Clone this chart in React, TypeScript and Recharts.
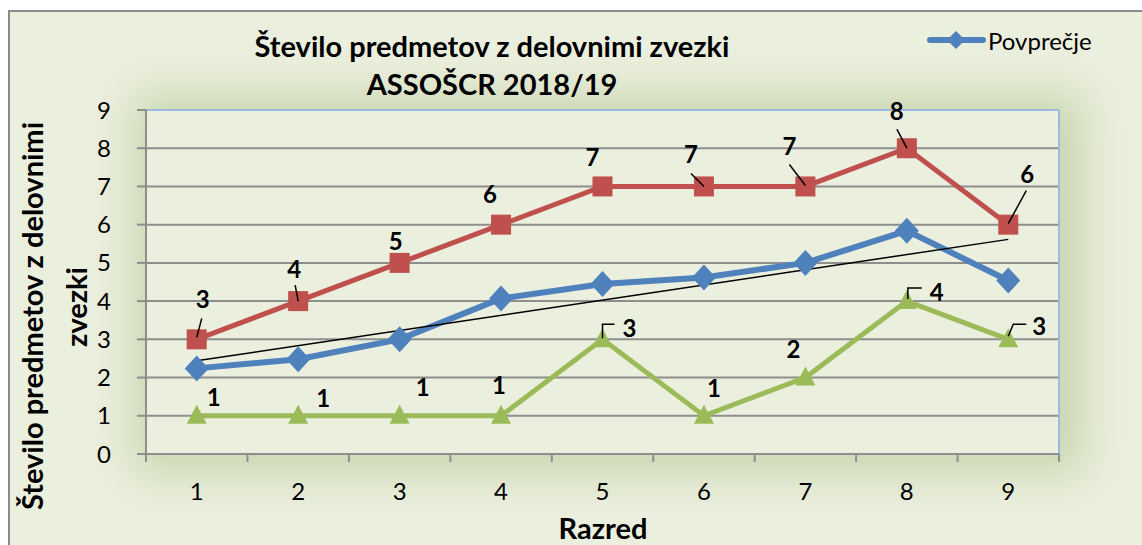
import React from "react";
import { LineChart, Line, XAxis, YAxis, CartesianGrid, ReferenceLine, LabelList } from "recharts";

const categories = [1, 2, 3, 4, 5, 6, 7, 8, 9];
const avgValues = [2.24, 2.48, 3.0, 4.07, 4.45, 4.62, 5.0, 5.84, 4.54];
const maxValues = [3, 4, 5, 6, 7, 7, 7, 8, 6];
const minValues = [1, 1, 1, 1, 3, 1, 2, 4, 3];
const yTicks = [0, 1, 2, 3, 4, 5, 6, 7, 8, 9];
const xTicks = [0.5, 1, 1.5, 2, 2.5, 3, 3.5, 4, 4.5, 5, 5.5, 6, 6.5, 7, 7.5, 8, 8.5, 9, 9.5];

const titleLine1 = "Število predmetov z delovnimi zvezki";
const titleLine2 = "ASSOŠCR 2018/19";
const yTitle1 = "Število predmetov z delovnimi";
const yTitle2 = "zvezki";
const xTitle = "Razred";
const legendLabel = "Povprečje";

const data = categories.map((c, i) => ({ x: c, avg: avgValues[i], max: maxValues[i], min: minValues[i] }));

// linear trend of the average series (Excel-style trendline)
const n = categories.length;
const mx = categories.reduce((a, b) => a + b, 0) / n;
const my = avgValues.reduce((a, b) => a + b, 0) / n;
const slope =
  categories.reduce((s, x, i) => s + (x - mx) * (avgValues[i] - my), 0) /
  categories.reduce((s, x) => s + (x - mx) * (x - mx), 0);
const trendData = [categories[0], categories[n - 1]].map((x) => ({ x, trend: my + slope * (x - mx) }));

const FONT = "Lato, 'Open Sans', sans-serif";
const BLUE = "#4F81BD";
const RED = "#C0504D";
const GREEN = "#9BBB59";
const GRID = "#8E8E8E";

// label placement offsets (label centre relative to point) and leader lines
const redLabelOffsets = [
  [6, -41], [-4, -33], [-4, -22], [-11, -31], [-10, -30], [-13, -33], [-16, -41], [-10, -38], [19, -51],
];
const redLeaders: (number[][] | null)[] = [
  [[0, -2], [5, -21]], [[0, 0], [-3, -16]], null, null, null, [[0, 0], [-13, -13]], [[0, -1], [-16, -22]], [[0, 0], [-10, -19]], [[0, -1], [18, -34]],
];
const greenLabelOffsets = [
  [17, -19], [25, -18], [23, -29], [-2, -31], [27, -12], [10, -28], [-12, -29], [30, -10], [31, -14],
];
const greenLeaders: (number[][] | null)[] = [
  null, null, null, null, [[0, -1], [0, -15], [12, -15]], null, null, [[1, -2], [1, -13], [15, -13]], [[0, -3], [5, -15], [18, -15]],
];

const makeLabel = (offsets: number[][], leaders: (number[][] | null)[]) => (props: any) => {
  const { x, y, value, index } = props;
  const [dx, dy] = offsets[index];
  const lead = leaders[index];
  return (
    <g>
      {lead && (
        <polyline
          points={lead.map((p) => `${x + p[0]},${y + p[1]}`).join(" ")}
          fill="none"
          stroke="#000"
          strokeWidth={1.5}
        />
      )}
      <text x={x + dx} y={y + dy} textAnchor="middle" dominantBaseline="central" fontFamily={FONT} fontWeight={700} fontSize={24} fill="#000">
        {value}
      </text>
    </g>
  );
};

const Diamond = (props: any) => {
  const { cx, cy } = props;
  if (cx == null || cy == null) return null;
  return <polygon points={`${cx},${cy - 13} ${cx + 12},${cy} ${cx},${cy + 13} ${cx - 12},${cy}`} fill={BLUE} />;
};
const Square = (props: any) => {
  const { cx, cy } = props;
  if (cx == null || cy == null) return null;
  return <rect x={cx - 10} y={cy - 10} width={20} height={20} fill={RED} />;
};
const Triangle = (props: any) => {
  const { cx, cy } = props;
  if (cx == null || cy == null) return null;
  return <polygon points={`${cx},${cy - 11} ${cx + 10},${cy + 8} ${cx - 10},${cy + 8}`} fill={GREEN} />;
};

const XTick = (props: any) => {
  const { x, y, payload } = props;
  const v = payload.value;
  if (Number.isInteger(v)) {
    return (
      <text x={x} y={y + 36} textAnchor="middle" dominantBaseline="central" fontFamily={FONT} fontSize={24} fill="#000">
        {v}
      </text>
    );
  }
  return <line x1={x} y1={y} x2={x} y2={y + 8} stroke={GRID} strokeWidth={2} />;
};

export default function App() {
  return (
    <div style={{ position: "absolute", left: 0, top: 0, width: 1142, height: 545, background: "#fff", overflow: "hidden" }}>
      <div
        style={{
          position: "absolute",
          left: 8,
          top: 10,
          width: 1140,
          height: 540,
          background: "#EBEFDE",
          borderLeft: "2px solid #8A8A8A",
          borderTop: "2px solid #8A8A8A",
        }}
      />
      <div
        style={{
          position: "absolute",
          left: 146,
          top: 110,
          width: 913,
          height: 344,
          background: "#EBEFDE",
          boxShadow: "6px 2px 42px 18px #C9D6AF",
        }}
      />
      <div style={{ position: "absolute", left: 0, top: 0 }}>
        <LineChart width={1142} height={545} data={data} margin={{ top: 110, right: 83, bottom: 51, left: 86 }}>
          <CartesianGrid vertical={false} stroke={GRID} strokeWidth={2} fill="#EBEFDE" />
          <XAxis
            dataKey="x"
            type="number"
            domain={[0.5, 9.5]}
            ticks={xTicks}
            interval={0}
            tickLine={false}
            tickSize={0}
            tickMargin={0}
            height={40}
            axisLine={{ stroke: GRID, strokeWidth: 2 }}
            tick={<XTick />}
            allowDataOverflow
          />
          <YAxis
            type="number"
            domain={[0, 9]}
            ticks={yTicks}
            interval={0}
            width={60}
            tickSize={9}
            tickMargin={26}
            tickLine={{ stroke: GRID, strokeWidth: 2 }}
            axisLine={{ stroke: GRID, strokeWidth: 2 }}
            tick={{ fontFamily: FONT, fontSize: 24, fill: "#000" }}
          />
          <ReferenceLine y={9} stroke="#9DB8E2" strokeWidth={2} />
          <ReferenceLine x={9.5} stroke="#9DB8E2" strokeWidth={2} />
          <Line dataKey="avg" stroke={BLUE} strokeWidth={6} dot={<Diamond />} activeDot={false} isAnimationActive={false} />
          <Line dataKey="max" stroke={RED} strokeWidth={5} dot={<Square />} activeDot={false} isAnimationActive={false}>
            <LabelList dataKey="max" content={makeLabel(redLabelOffsets, redLeaders)} />
          </Line>
          <Line dataKey="min" stroke={GREEN} strokeWidth={5} dot={<Triangle />} activeDot={false} isAnimationActive={false}>
            <LabelList dataKey="min" content={makeLabel(greenLabelOffsets, greenLeaders)} />
          </Line>
          <Line data={trendData} dataKey="trend" stroke="#000" strokeWidth={1.5} dot={false} activeDot={false} isAnimationActive={false} />
        </LineChart>
      </div>
      <svg width={1142} height={545} style={{ position: "absolute", left: 0, top: 0, pointerEvents: "none" }}>
        <text x={492} y={45} textAnchor="middle" dominantBaseline="central" fontFamily={FONT} fontWeight={700} fontSize={29} fill="#000">
          {titleLine1}
        </text>
        <text x={492} y={83} textAnchor="middle" dominantBaseline="central" fontFamily={FONT} fontWeight={700} fontSize={29} fill="#000">
          {titleLine2}
        </text>
        <text x={603} y={527} textAnchor="middle" dominantBaseline="central" fontFamily={FONT} fontWeight={700} fontSize={29} fill="#000">
          {xTitle}
        </text>
        <text transform="translate(31,316) rotate(-90)" textAnchor="middle" dominantBaseline="central" fontFamily={FONT} fontWeight={700} fontSize={29} fill="#000">
          {yTitle1}
        </text>
        <text transform="translate(75,307) rotate(-90)" textAnchor="middle" dominantBaseline="central" fontFamily={FONT} fontWeight={700} fontSize={29} fill="#000">
          {yTitle2}
        </text>
        <line x1={930} y1={40} x2={983} y2={40} stroke={BLUE} strokeWidth={6} strokeLinecap="round" />
        <polygon points="956,31 965,40 956,49 947,40" fill={BLUE} />
        <text x={988} y={40} dominantBaseline="central" fontFamily={FONT} fontSize={24} fill="#000">
          {legendLabel}
        </text>
      </svg>
    </div>
  );
}
